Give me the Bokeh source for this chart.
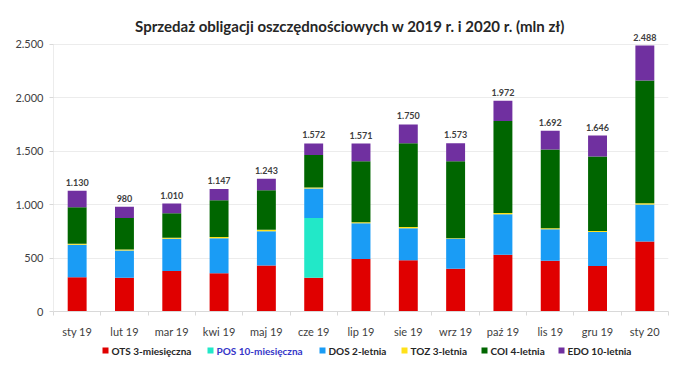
from bokeh.plotting import figure
from bokeh.models import ColumnDataSource, FixedTicker, CustomJSTickFormatter, LabelSet, Label
from bokeh.layouts import column
from bokeh.core.properties import value
from bokeh.embed import file_html
from bokeh.resources import INLINE

categories = ["sty 19", "lut 19", "mar 19", "kwi 19", "maj 19", "cze 19", "lip 19",
              "sie 19", "wrz 19", "paź 19", "lis 19", "gru 19", "sty 20"]
ots = [320, 315, 380, 358, 430, 315, 490, 480, 400, 530, 475, 425, 655]
pos = [0, 0, 0, 0, 0, 560, 0, 0, 0, 0, 0, 0, 0]
dos = [305, 255, 300, 328, 320, 275, 335, 300, 280, 380, 295, 318, 345]
toz = [10, 10, 10, 10, 15, 10, 10, 10, 5, 12, 10, 10, 12]
coi = [340, 295, 230, 345, 370, 305, 570, 785, 720, 860, 735, 697, 1150]
edo = [155, 105, 90, 106, 108, 107, 166, 175, 168, 190, 177, 196, 326]
totals = [1130, 980, 1010, 1147, 1243, 1572, 1571, 1750, 1573, 1972, 1692, 1646, 2488]
y_ticks = [0, 500, 1000, 1500, 2000, 2500]

series = ["OTS 3-miesięczna", "POS 10-miesięczna", "DOS 2-letnia", "TOZ 3-letnia",
          "COI 4-letnia", "EDO 10-letnia"]
colors = ["#e00000", "#22e8c8", "#1a9cf5", "#ffe11a", "#006600", "#7030a0"]
keys = ["ots", "pos", "dos", "toz", "coi", "edo"]
title_text = "Sprzedaż obligacji oszczędnościowych w 2019 r. i 2020 r. (mln zł)"

FONT = "Lato"

x = list(range(len(categories)))
source = ColumnDataSource(dict(
    x=x, ots=ots, pos=pos, dos=dos, toz=toz, coi=coi, edo=edo,
    total=totals,
    label=[f"{t:,}".replace(",", ".") for t in totals],
))

# frame: canvas x 53..668, canvas y 10..313 (2500 sits at y=44)
p = figure(width=696, height=340, output_backend="svg", toolbar_location=None,
           x_range=(-0.5, 12.5), y_range=(0, 2816),
           min_border_left=53, min_border_right=28, min_border_top=10, min_border_bottom=27)
p.outline_line_color = None

p.vbar_stack(keys, x="x", width=0.4, color=colors, source=source, line_color=None)

labels = LabelSet(x="x", y="total", text="label", source=source, y_offset=5,
                  text_align="center", text_baseline="bottom",
                  text_font=value(FONT), text_font_size="9px", text_font_style="bold",
                  text_color="#404040")
p.add_layout(labels)

# title placed in frame-relative screen units
p.add_layout(Label(x=296.5, y=286, x_units="screen", y_units="screen", text=title_text,
                   text_align="center", text_baseline="middle", text_font=FONT,
                   text_font_size="15px", text_font_style="bold", text_color="#262626"))

# y axis line only up to the top tick
p.segment(x0=[-0.5], y0=[0], x1=[-0.5], y1=[y_ticks[-1]], line_color="#d9d9d9", line_width=1)

xa = p.xaxis[0]
xa.ticker = FixedTicker(ticks=x, minor_ticks=[i - 0.5 for i in range(len(categories) + 1)])
xa.major_label_overrides = {i: c for i, c in enumerate(categories)}
xa.major_tick_line_color = None
xa.minor_tick_in = 0
xa.minor_tick_out = 4
xa.minor_tick_line_color = "#d9d9d9"
xa.axis_line_color = "#d9d9d9"
xa.major_label_text_font = FONT
xa.major_label_text_font_size = "11px"
xa.major_label_text_color = "#404040"
xa.major_label_standoff = 7

ya = p.yaxis[0]
ya.ticker = FixedTicker(ticks=y_ticks)
ya.formatter = CustomJSTickFormatter(
    code="return tick.toString().replace(/\\B(?=(\\d{3})+(?!\\d))/g, '.');")
ya.axis_line_color = None
ya.major_tick_line_color = "#d9d9d9"
ya.major_tick_in = 0
ya.major_tick_out = 4
ya.minor_tick_line_color = None
ya.major_label_text_font = FONT
ya.major_label_text_font_size = "11px"
ya.major_label_text_color = "#404040"
ya.major_label_standoff = 6

p.xgrid.grid_line_color = None
p.ygrid.grid_line_color = "#ececec"

# legend as a separate strip below; its frame matches the main frame (canvas x 53..668)
sq_x = [105, 210, 322, 404, 484, 561]
text_colors = ["#262626", "#3535c8", "#262626", "#262626", "#262626", "#262626"]
lg = figure(width=696, height=36, output_backend="svg", toolbar_location=None,
            x_range=(53, 668), y_range=(0, 36),
            min_border_left=53, min_border_right=28, min_border_top=0, min_border_bottom=0,
            x_axis_type=None, y_axis_type=None)
lg.outline_line_color = None
lg.grid.grid_line_color = None
leg = ColumnDataSource(dict(
    sx=sq_x, tx=[s + 6 for s in sq_x], y=[26] * len(series),
    name=series, color=colors, tcolor=text_colors))
lg.scatter("sx", "y", source=leg, marker="square", size=6, color="color", line_color=None)
lg.text("tx", "y", text="name", source=leg, text_color="tcolor", text_font=value(FONT),
        text_font_size="10px", text_font_style="bold", text_baseline="middle", text_align="left")

open("out.html", "w").write(file_html(column(p, lg), INLINE))
